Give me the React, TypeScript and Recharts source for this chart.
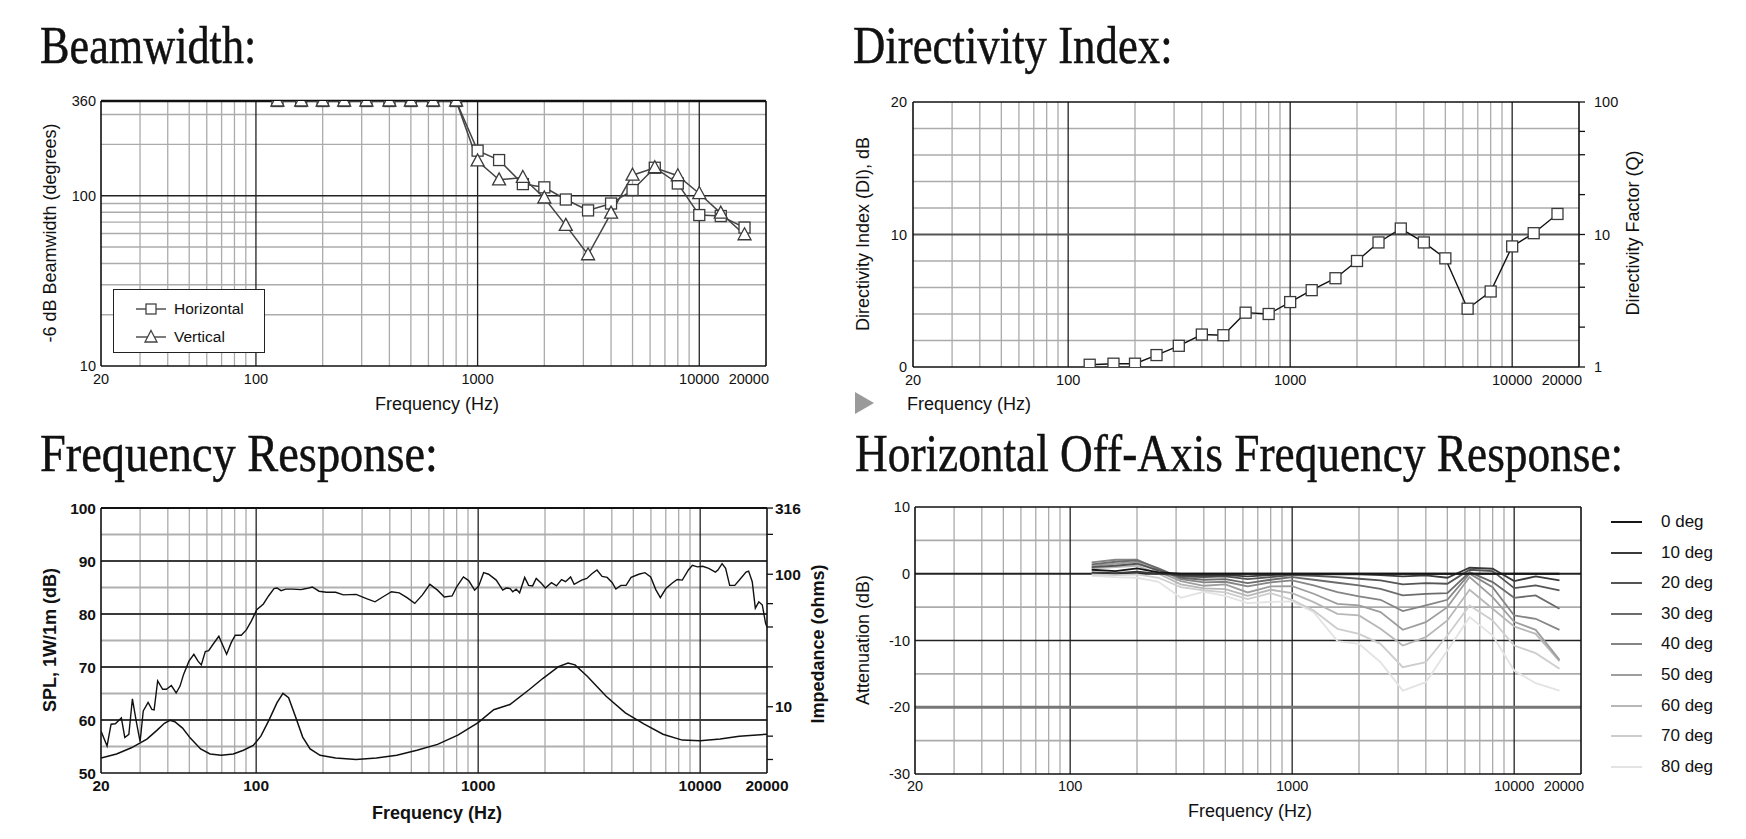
import React from "react";
import { LineChart, Line, XAxis, YAxis, ReferenceLine } from "recharts";

const W = 1746;
const H = 839;
const SANS = "'Liberation Sans', Arial, sans-serif";
const SERIF = "'Liberation Serif', 'Times New Roman', serif";
const GRID = "#ababab";
const DARK = "#222";

// shared frequency axis
const freqTicks = [20, 100, 1000, 10000, 20000];
const minorFreqs = [30, 40, 50, 60, 70, 80, 90, 200, 300, 400, 500, 600, 700, 800, 900, 2000, 3000, 4000, 5000, 6000, 7000, 8000, 9000];
const majorFreqs = [100, 1000, 10000];
const thirdOctave = [125, 160, 200, 250, 315, 400, 500, 630, 800, 1000, 1250, 1600, 2000, 2500, 3150, 4000, 5000, 6300, 8000, 10000, 12500, 16000];

// beamwidth (degrees)
const bwHorizontal = [360, 360, 360, 360, 360, 360, 360, 360, 360, 184, 162, 117, 112, 95, 82, 90, 108, 146, 118, 77, 76, 65];
const bwVertical = [360, 360, 360, 360, 360, 360, 360, 360, 360, 160, 124, 128, 97, 67, 45, 79, 132, 146, 131, 103, 79, 59];
const bwTicks = [10, 100, 360];
const bwMinor = [20, 30, 40, 50, 60, 70, 80, 90, 200, 300];

// directivity index (dB)
const diValues = [0.17, 0.25, 0.25, 0.9, 1.6, 2.45, 2.4, 4.1, 4.0, 4.9, 5.8, 6.7, 8.0, 9.4, 10.45, 9.4, 8.2, 4.4, 5.7, 9.1, 10.1, 11.55];
const diTicks = [0, 10, 20];
const diMinor = [2, 4, 6, 8, 12, 14, 16, 18];
const qTicks = [1, 2, 3, 4, 5, 6, 10, 20, 30, 40, 50, 60, 100];
const qLabels = [1, 10, 100];

// frequency response: SPL (dB)
const splFreq = [20, 21.3, 22.2, 23.2, 24.7, 25.6, 26.7, 27.7, 28.9, 30, 31, 32.6, 33.9, 34.7, 36, 37.9, 39.4, 41.5, 43.6, 45.4, 47.1, 49.8, 52.4, 54.7, 56.6, 59, 61.1, 63.7, 67.9, 71, 73.6, 77.2, 80.5, 85.7, 90.3, 95.2, 100.6, 107.8, 113.7, 120.3, 124.1, 129.5, 135.9, 146, 159, 168, 179, 192, 207, 228, 247, 282, 314, 343, 378, 407, 441, 478, 518, 561, 606, 656, 704, 763, 800, 858, 906, 964, 1006, 1058, 1114, 1206, 1290, 1337, 1393, 1431, 1483, 1537, 1620, 1687, 1759, 1826, 1925, 2008, 2138, 2252, 2374, 2475, 2608, 2706, 2926, 3085, 3252, 3429, 3615, 3811, 4018, 4170, 4396, 4636, 4887, 5290, 5640, 5985, 6310, 6615, 7010, 7470, 7880, 8310, 8850, 9225, 9730, 10260, 10930, 11710, 12020, 12550, 13020, 13580, 14320, 15020, 16090, 16530, 17160, 17720, 18380, 19050, 19700, 20000];
const splDb = [57.9, 55.1, 59.2, 59.3, 60.4, 56.7, 57.3, 64.0, 59.5, 55.9, 61.7, 63.3, 62.0, 61.9, 67.4, 65.8, 65.8, 66.5, 65.1, 66.4, 68.6, 71.1, 72.4, 71.1, 70.4, 72.9, 73.1, 74.2, 75.8, 73.9, 72.4, 74.6, 76.0, 76.0, 77.0, 78.7, 80.8, 81.9, 83.4, 84.8, 84.9, 84.4, 84.7, 84.7, 84.6, 84.8, 85.1, 84.3, 84.1, 84.1, 83.6, 83.7, 82.9, 82.3, 83.4, 84.2, 84.0, 83.1, 82.0, 83.6, 85.6, 84.5, 83.2, 83.4, 85.1, 87.0, 86.3, 84.5, 85.3, 87.8, 87.5, 86.4, 84.5, 84.9, 84.8, 84.2, 84.7, 84.0, 86.9, 85.4, 85.3, 86.7, 85.8, 84.9, 85.9, 85.3, 86.5, 86.1, 87.0, 85.6, 86.4, 86.7, 87.6, 88.3, 87.1, 86.9, 85.9, 84.7, 85.4, 85.4, 86.9, 87.5, 87.8, 87.0, 84.6, 83.1, 84.8, 85.8, 86.5, 86.4, 88.3, 89.2, 88.9, 89.0, 88.6, 87.9, 88.3, 89.5, 88.6, 85.4, 85.4, 86.4, 87.9, 88.1, 86.1, 81.1, 82.3, 81.7, 78.3, 77.5];
const splTicks = [50, 60, 70, 80, 90, 100];
const splDarkLines = [60, 70, 80, 90];
const splLightLines = [55, 65, 75, 85, 95];

// frequency response: impedance (ohms)
const impFreq = [20, 23.5, 27.4, 32.2, 35.6, 38.6, 40.9, 43, 46.6, 50.5, 56.2, 62, 69.6, 78.9, 87.6, 97, 105, 114.5, 124, 132, 140, 150, 162, 175, 194, 228, 282, 348, 430, 530, 656, 810, 1000, 1175, 1390, 1700, 1960, 2300, 2540, 2730, 3100, 3770, 4600, 5600, 6800, 8300, 10000, 12300, 15000, 20000];
const impOhms = [4.1, 4.4, 4.9, 5.7, 6.6, 7.5, 7.9, 7.7, 6.9, 5.8, 4.8, 4.4, 4.3, 4.4, 4.7, 5.1, 6.0, 8.0, 10.7, 12.6, 11.7, 8.5, 5.9, 4.8, 4.3, 4.1, 4.0, 4.1, 4.3, 4.7, 5.2, 6.1, 7.6, 9.5, 10.4, 13.5, 16.4, 20.1, 21.4, 20.7, 17.0, 12.0, 9.0, 7.4, 6.2, 5.6, 5.55, 5.7, 6.0, 6.2];
const zTicks = [4, 5, 6, 10, 20, 30, 40, 50, 60, 100, 200, 316];
const zLabels = [10, 100, 316];

// horizontal off-axis response (dB)
const offLabels = ["0 deg", "10 deg", "20 deg", "30 deg", "40 deg", "50 deg", "60 deg", "70 deg", "80 deg"];
const off0 = [0.6, 0.4, 0.8, 0.2, 0, 0, 0, 0, 0, 0, 0, 0, 0, 0, 0, 0, 0, 0, 0, 0, 0, 0];
const off10 = [0.2, 0.1, 0.3, 0, -0.2, -0.3, -0.2, -0.4, -0.2, -0.1, -0.1, -0.1, -0.1, -0.2, -0.4, -0.25, -0.6, 0.9, 0.75, -1.1, -0.4, -1.0];
const off20 = [1.0, 1.2, 1.5, 0.5, -0.4, -0.5, -0.4, -0.8, -0.5, -0.2, -0.3, -0.5, -0.75, -1.0, -1.6, -1.4, -1.5, 0.6, 0.4, -2.15, -1.75, -2.5];
const off30 = [1.4, 1.8, 2.0, 0.8, -0.6, -0.9, -0.8, -1.4, -0.9, -0.5, -0.9, -1.35, -1.75, -2.25, -3.25, -3.0, -2.9, 0.25, -1.25, -3.6, -3.25, -5.25];
const off40 = [1.7, 2.1, 2.1, 0.7, -0.8, -1.3, -1.2, -1.9, -1.3, -1.0, -1.75, -2.75, -3.4, -3.9, -5.6, -4.75, -3.9, 0, -2.0, -6.25, -6.75, -8.4];
const off50 = [1.2, 1.5, 1.8, 0.3, -1.1, -1.8, -1.6, -2.8, -1.9, -1.85, -3.0, -4.5, -4.75, -5.75, -8.4, -7.25, -5.0, -0.5, -3.5, -7.2, -8.4, -12.9];
const off60 = [0.8, 1.0, 1.2, 0.0, -1.6, -2.2, -2.3, -3.3, -2.4, -2.9, -4.25, -6.0, -6.25, -8.25, -10.75, -9.5, -7.0, -2.4, -5.25, -7.9, -9.0, -13.1];
const off70 = [-0.1, -0.2, -0.1, -0.6, -2.0, -2.5, -2.8, -3.8, -2.9, -3.9, -5.5, -8.25, -9.0, -10.5, -14.0, -13.25, -9.25, -4.75, -7.0, -10.75, -11.9, -14.25];
const off80 = [-0.3, -0.5, -0.6, -1.2, -3.6, -2.7, -3.3, -4.4, -4.2, -4.15, -5.75, -10.1, -10.5, -13.25, -17.5, -16.25, -11.5, -6.5, -9.25, -14.5, -16.4, -17.5];
const offSeries = [off0, off10, off20, off30, off40, off50, off60, off70, off80];
const offColors = ["#161616", "#3a3a3a", "#555", "#6c6c6c", "#858585", "#9e9e9e", "#b7b7b7", "#cdcdcd", "#e3e3e3"];
const offTicks = [-30, -20, -10, 0, 10];

// plot rectangles in page pixels
const P1 = { l: 101, r: 766, t: 101, b: 366 };
const P2 = { l: 913, r: 1579, t: 102, b: 367 };
const P3 = { l: 101, r: 767, t: 508, b: 773 };
const P4 = { l: 915, r: 1581, t: 507, b: 774 };

const mg = (p: any, right: boolean) => ({
  top: p.t,
  bottom: H - p.b - 30,
  left: p.l - 40,
  right: W - p.r - (right ? 40 : 0),
});

const xTick = (y: number, size: number, bold: boolean, endLast: boolean, right: number) => (props: any) => {
  const { x, payload } = props;
  const last = endLast && payload.value === 20000;
  return (
    <text x={last ? right + 3 : x} y={y} textAnchor={last ? "end" : "middle"} fontFamily={SANS} fontSize={size} fontWeight={bold ? 700 : 400} fill="#111">
      {payload.value}
    </text>
  );
};

const yTick = (x: number, size: number, bold: boolean, anchor: string, shown?: number[]) => (props: any) => {
  const { y, payload } = props;
  if (shown && !shown.includes(payload.value)) return <g />;
  return (
    <text x={x} y={y + size * 0.36} textAnchor={anchor} fontFamily={SANS} fontSize={size} fontWeight={bold ? 700 : 400} fill="#111">
      {payload.value}
    </text>
  );
};

function Square(props: any) {
  const { cx, cy, index } = props;
  if (cx == null || cy == null) return <g key={`s${index}`} />;
  return <rect key={`s${index}`} x={cx - 5.5} y={cy - 5.5} width={11} height={11} fill="#fff" stroke="#3a3a3a" strokeWidth={1.3} />;
}

function Triangle(props: any) {
  const { cx, cy, index } = props;
  if (cx == null || cy == null) return <g key={`t${index}`} />;
  return (
    <polygon key={`t${index}`} points={`${cx},${cy - 7} ${cx + 6.5},${cy + 5} ${cx - 6.5},${cy + 5}`} fill="#fff" stroke="#3a3a3a" strokeWidth={1.3} />
  );
}

const freqGrid = (yId: string) => [
  ...minorFreqs.map((f) => <ReferenceLine key={`vm${f}`} yAxisId={yId} x={f} stroke={GRID} strokeWidth={1.3} />),
  ...majorFreqs.map((f) => <ReferenceLine key={`vM${f}`} yAxisId={yId} x={f} stroke={DARK} strokeWidth={1.3} />),
];

const frame = (yId: string, y0: number, y1: number, topW = 1.6) => [
  <ReferenceLine key="ft" yAxisId={yId} y={y1} stroke="#111" strokeWidth={topW} />,
  <ReferenceLine key="fb" yAxisId={yId} y={y0} stroke="#111" strokeWidth={1.6} />,
  <ReferenceLine key="fl" yAxisId={yId} x={20} stroke="#111" strokeWidth={1.6} />,
  <ReferenceLine key="fr" yAxisId={yId} x={20000} stroke="#111" strokeWidth={1.6} />,
];

const Abs = ({ x, y, rot = 0, size, bold = false, color = "#111", family = SANS, children }: any) => (
  <div
    style={{
      position: "absolute",
      left: x,
      top: y,
      transform: `translate(-50%, -50%) rotate(${rot}deg)`,
      whiteSpace: "nowrap",
      fontFamily: family,
      fontSize: size,
      fontWeight: bold ? 700 : 400,
      color,
      lineHeight: 1,
    }}
  >
    {children}
  </div>
);

const Title = ({ text, left, top, sx }: any) => (
  <div
    style={{
      position: "absolute",
      left,
      top,
      fontFamily: SERIF,
      fontSize: 53,
      lineHeight: "53px",
      color: "#111",
      WebkitTextStroke: "0.5px #111",
      transform: `scaleX(${sx})`,
      transformOrigin: "0 0",
      whiteSpace: "nowrap",
    }}
  >
    {text}
  </div>
);

function BeamwidthChart() {
  const hData = thirdOctave.map((f, i) => ({ f, v: bwHorizontal[i] }));
  const vData = thirdOctave.map((f, i) => ({ f, v: bwVertical[i] }));
  return (
    <LineChart width={W} height={H} margin={mg(P1, false)}>
      <XAxis dataKey="f" type="number" scale="log" domain={[20, 20000]} ticks={freqTicks} allowDataOverflow axisLine={false} tickLine={false} height={30} tick={xTick(384, 14.5, false, true, P1.r)} />
      <YAxis yAxisId="l" type="number" scale="log" domain={[10, 360]} ticks={bwTicks} allowDataOverflow axisLine={false} tickLine={false} width={40} tick={yTick(96, 14.5, false, "end")} />
      {bwMinor.map((v) => <ReferenceLine key={`h${v}`} yAxisId="l" y={v} stroke={GRID} strokeWidth={1.3} />)}
      {freqGrid("l")}
      <ReferenceLine yAxisId="l" y={100} stroke={DARK} strokeWidth={1.5} />
      {frame("l", 10, 360, 2.4)}
      <Line yAxisId="l" data={hData} dataKey="v" stroke="#444" strokeWidth={1.5} dot={Square} isAnimationActive={false} />
      <Line yAxisId="l" data={vData} dataKey="v" stroke="#444" strokeWidth={1.5} dot={Triangle} isAnimationActive={false} />
    </LineChart>
  );
}

function DirectivityChart() {
  const data = thirdOctave.map((f, i) => ({ f, v: diValues[i] }));
  return (
    <LineChart width={W} height={H} margin={mg(P2, true)}>
      <XAxis dataKey="f" type="number" scale="log" domain={[20, 20000]} ticks={freqTicks} allowDataOverflow axisLine={false} tickLine={false} height={30} tick={xTick(385, 14.5, false, true, P2.r)} />
      <YAxis yAxisId="l" type="number" domain={[0, 20]} ticks={diTicks} allowDataOverflow axisLine={false} tickLine={false} width={40} tick={yTick(907, 14.5, false, "end")} />
      <YAxis yAxisId="r" orientation="right" type="number" scale="log" domain={[1, 100]} ticks={qTicks} allowDataOverflow axisLine={false} tickLine={{ stroke: "#111", strokeWidth: 1.3 }} tickSize={6} width={40} tick={yTick(1594, 14.5, false, "start", qLabels)} />
      {diMinor.map((v) => <ReferenceLine key={`h${v}`} yAxisId="l" y={v} stroke={GRID} strokeWidth={1.3} />)}
      {freqGrid("l")}
      <ReferenceLine yAxisId="l" y={10} stroke="#555" strokeWidth={1.8} />
      {frame("l", 0, 20)}
      <Line yAxisId="l" data={data} dataKey="v" stroke="#111" strokeWidth={1.4} dot={Square} isAnimationActive={false} />
    </LineChart>
  );
}

function ResponseChart() {
  const spl = splFreq.map((f, i) => ({ f, v: splDb[i] }));
  const imp = impFreq.map((f, i) => ({ f, z: impOhms[i] }));
  return (
    <LineChart width={W} height={H} margin={mg(P3, true)}>
      <XAxis dataKey="f" type="number" scale="log" domain={[20, 20000]} ticks={freqTicks} allowDataOverflow axisLine={false} tickLine={false} height={30} tick={xTick(791, 15.5, true, false, P3.r)} />
      <YAxis yAxisId="l" type="number" domain={[50, 100]} ticks={splTicks} allowDataOverflow axisLine={false} tickLine={false} width={40} tick={yTick(96, 15.5, true, "end")} />
      <YAxis yAxisId="r" orientation="right" type="number" scale="log" domain={[3.1623, 316.23]} ticks={zTicks} allowDataOverflow axisLine={false} tickLine={{ stroke: "#111", strokeWidth: 1.3 }} tickSize={6} width={40} tick={yTick(775, 15.5, true, "start", zLabels)} />
      {splLightLines.map((v) => <ReferenceLine key={`hl${v}`} yAxisId="l" y={v} stroke="#b0b0b0" strokeWidth={2} />)}
      {freqGrid("l")}
      {splDarkLines.map((v) => <ReferenceLine key={`hd${v}`} yAxisId="l" y={v} stroke="#3a3a3a" strokeWidth={2} />)}
      {frame("l", 50, 100, 2)}
      <Line yAxisId="r" data={imp} dataKey="z" stroke="#111" strokeWidth={1.5} dot={false} isAnimationActive={false} />
      <Line yAxisId="l" data={spl} dataKey="v" stroke="#111" strokeWidth={1.4} dot={false} isAnimationActive={false} />
    </LineChart>
  );
}

function OffAxisChart() {
  const rows = thirdOctave.map((f, i) => {
    const row: any = { f };
    offSeries.forEach((s, k) => (row[`d${k}`] = s[i]));
    return row;
  });
  return (
    <LineChart width={W} height={H} data={rows} margin={mg(P4, false)}>
      <XAxis dataKey="f" type="number" scale="log" domain={[20, 20000]} ticks={freqTicks} allowDataOverflow axisLine={false} tickLine={false} height={30} tick={xTick(791, 14.5, false, true, P4.r)} />
      <YAxis yAxisId="l" type="number" domain={[-30, 10]} ticks={offTicks} allowDataOverflow axisLine={false} tickLine={false} width={40} tick={yTick(910, 14.5, false, "end")} />
      {[5, -5, -15, -25].map((v) => <ReferenceLine key={`hl${v}`} yAxisId="l" y={v} stroke={GRID} strokeWidth={1.6} />)}
      {freqGrid("l")}
      <ReferenceLine yAxisId="l" y={-20} stroke="#777" strokeWidth={3} />
      <ReferenceLine yAxisId="l" y={-10} stroke={DARK} strokeWidth={1.6} />
      <ReferenceLine yAxisId="l" y={0} stroke={DARK} strokeWidth={1.8} />
      {frame("l", -30, 10)}
      {offSeries.map((_, k) => (
        <Line key={`o${k}`} yAxisId="l" dataKey={`d${8 - k}`} stroke={offColors[8 - k]} strokeWidth={1.8} dot={false} isAnimationActive={false} />
      ))}
    </LineChart>
  );
}

const layer: React.CSSProperties = { position: "absolute", left: 0, top: 0 };

export default function App() {
  return (
    <div style={{ position: "absolute", left: 0, top: 0, width: W, height: H, background: "#fff", overflow: "hidden" }}>
      <div style={layer}><BeamwidthChart /></div>
      <div style={layer}><DirectivityChart /></div>
      <div style={layer}><ResponseChart /></div>
      <div style={layer}><OffAxisChart /></div>

      <Title text="Beamwidth:" left={40} top={19} sx={0.835} />
      <Title text="Directivity Index:" left={853} top={19} sx={0.845} />
      <Title text="Frequency Response:" left={40} top={427} sx={0.875} />
      <Title text="Horizontal Off-Axis Frequency Response:" left={855} top={427} sx={0.855} />

      <Abs x={50} y={233} rot={-90} size={18}>-6 dB Beamwidth (degrees)</Abs>
      <Abs x={437} y={404} size={18}>Frequency (Hz)</Abs>

      <Abs x={863} y={234} rot={-90} size={18}>Directivity Index (DI), dB</Abs>
      <Abs x={1633} y={233} rot={-90} size={18}>Directivity Factor (Q)</Abs>
      <div style={{ position: "absolute", left: 907, top: 395, fontFamily: SANS, fontSize: 18, lineHeight: 1, color: "#111", whiteSpace: "nowrap" }}>Frequency (Hz)</div>
      <svg style={{ position: "absolute", left: 855, top: 392 }} width={20} height={22}>
        <polygon points="0,0 19,11 0,22" fill="#9a9a9a" />
      </svg>

      <Abs x={50} y={640} rot={-90} size={18} bold>SPL, 1W/1m (dB)</Abs>
      <Abs x={818} y={644} rot={-90} size={18} bold>Impedance (ohms)</Abs>
      <Abs x={437} y={813} size={18} bold>Frequency (Hz)</Abs>

      <Abs x={863} y={640} rot={-90} size={18}>Attenuation (dB)</Abs>
      <Abs x={1250} y={811} size={18}>Frequency (Hz)</Abs>

      <div style={{ position: "absolute", left: 113, top: 289, width: 152, height: 64, border: "1.6px solid #222", background: "#fff", boxSizing: "border-box" }}>
        {[
          { label: "Horizontal", shape: "sq", top: 10 },
          { label: "Vertical", shape: "tri", top: 38 },
        ].map((it) => (
          <div key={it.label} style={{ position: "absolute", left: 0, top: it.top, height: 18, display: "flex", alignItems: "center" }}>
            <svg width={60} height={18}>
              <line x1={22} y1={9} x2={52} y2={9} stroke="#444" strokeWidth={1.4} />
              {it.shape === "sq" ? (
                <rect x={32} y={4} width={10} height={10} fill="#fff" stroke="#444" strokeWidth={1.3} />
              ) : (
                <polygon points="37,2.5 43,14 31,14" fill="#fff" stroke="#444" strokeWidth={1.3} />
              )}
            </svg>
            <span style={{ fontFamily: SANS, fontSize: 15.5, color: "#111" }}>{it.label}</span>
          </div>
        ))}
      </div>

      {offLabels.map((lab, k) => (
        <div key={lab} style={{ position: "absolute", left: 1608, top: 522 + k * 30.6 - 10, height: 20, display: "flex", alignItems: "center" }}>
          <svg width={48} height={20}>
            <line x1={3} y1={10} x2={34} y2={10} stroke={offColors[k]} strokeWidth={2} />
          </svg>
          <span style={{ fontFamily: SANS, fontSize: 17, color: "#111", marginLeft: 5 }}>{lab}</span>
        </div>
      ))}
    </div>
  );
}
